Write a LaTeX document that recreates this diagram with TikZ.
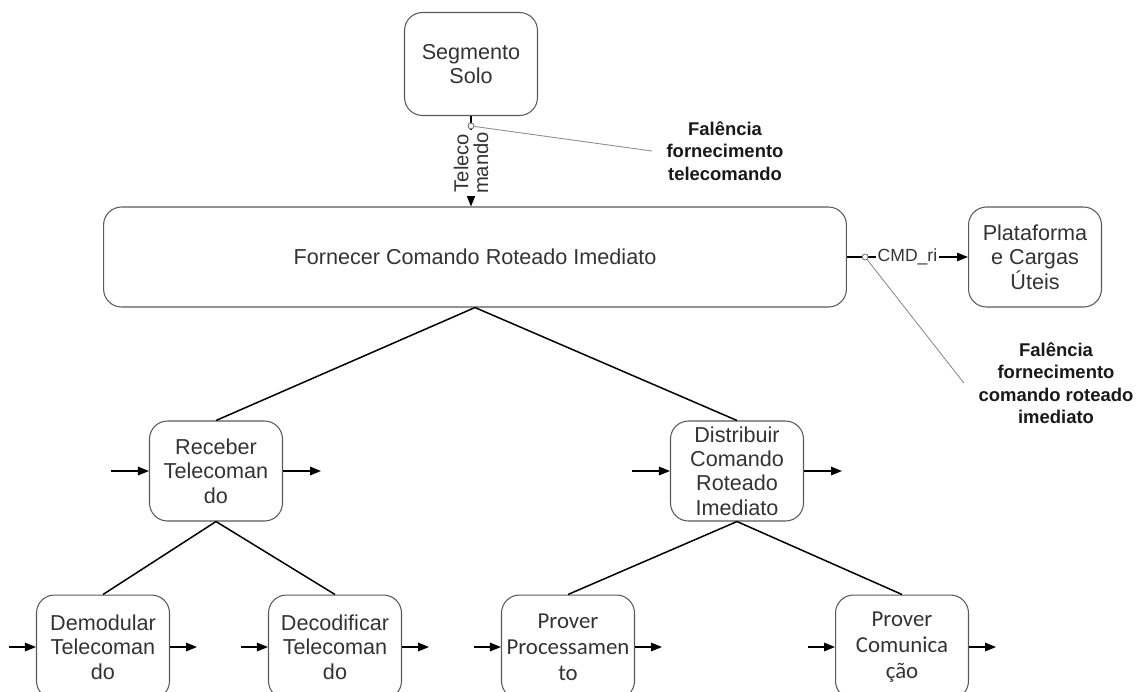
\documentclass[tikz,border=0pt]{standalone}
\usepackage{fontspec}
\setmainfont{Liberation Sans}
\newfontfamily\carlito{Carlito}
\usetikzlibrary{arrows.meta,calc}

\tikzset{
  bloco/.style={draw=black!65, line width=0.6pt, rounded corners=0.36cm, align=center,
    text=black!80, minimum width=2.66cm, minimum height=2cm, inner sep=1pt,
    font=\fontsize{12.3}{13.9}\selectfont},
  blocob/.style={bloco, minimum height=2.08cm, font=\carlito\fontsize{13}{14.7}\selectfont},
  nota/.style={align=center, text=black!90, inner sep=0.28cm,
    font=\fontsize{10.5}{12.8}\selectfont\bfseries},
  rotulo/.style={fill=white, inner sep=1pt, align=center, text=black!80,
    font=\fontsize{10}{11.3}\selectfont},
  ponto/.style={circle, draw=black!55, fill=white, inner sep=0pt, minimum size=0.12cm, line width=0.5pt},
  fio/.style={black!45, line width=0.5pt},
}

\begin{document}
\begin{tikzpicture}[x=0.02cm, y=-0.02cm, >={Triangle[length=0.22cm,width=0.17cm]}, line width=0.85pt]
  \useasboundingbox (0,0) rectangle (1145,691);

  \node[bloco, minimum height=2.06cm] (solo) at (471,64) {Segmento\\Solo};
  \node[bloco, minimum width=14.86cm] (principal) at (475,257) {Fornecer Comando Roteado Imediato};
  \node[bloco] (plataforma) at (1035,257) {Plataforma\\e Cargas\\Úteis};

  \node[bloco] (receber) at (216,471) {Receber\\Telecoman\\do};
  \node[bloco] (distribuir) at (737,471) {Distribuir\\Comando\\Roteado\\Imediato};

  \node[bloco, minimum height=2.08cm] (demodular) at (103,647) {Demodular\\Telecoman\\do};
  \node[bloco, minimum height=2.08cm] (decodificar) at (335,647) {Decodificar\\Telecoman\\do};
  \node[blocob] (processamento) at (568,647) {Prover\\Processamen\\to};
  \node[blocob] (comunicacao) at (902,647) {Prover\\Comunica\\ção};

  \node[nota] (nota1) at (725,151) {Falência\\fornecimento\\telecomando};
  \node[nota] (nota2) at (1056,383) {Falência\\fornecimento\\comando roteado\\imediato};

  \draw[->] (solo.south) -- (solo.south |- principal.north)
    node[rotulo, pos=0.52, rotate=90, font=\fontsize{11.5}{11.3}\selectfont] {Teleco\\mando}
    node[ponto, pos=0.11] (p1) {};
  \draw[->] (principal.east) -- (plataforma.west)
    node[rotulo, pos=0.5] {CMD\_ri}
    node[ponto, pos=0.15] (p2) {};
  \draw[fio] (p1) -- (nota1.west);
  \draw[fio] (p2) -- (nota2.west);

  \draw (principal.south) -- (receber.north);
  \draw (principal.south) -- (distribuir.north);
  \draw (receber.south) -- (demodular.north);
  \draw (receber.south) -- (decodificar.north);
  \draw (distribuir.south) -- (processamento.north);
  \draw (distribuir.south) -- (comunicacao.north);

  \foreach \n/\d in {receber/38, distribuir/38, demodular/27, decodificar/27,
                     processamento/27, comunicacao/27} {
    \coordinate (\n-in) at ($(\n.west)+(-\d,0)$);
    \coordinate (\n-out) at ($(\n.east)+(\d,0)$);
    \draw[->] (\n-in) -- (\n.west);
    \draw[->] (\n.east) -- (\n-out);
  }
\end{tikzpicture}
\end{document}
